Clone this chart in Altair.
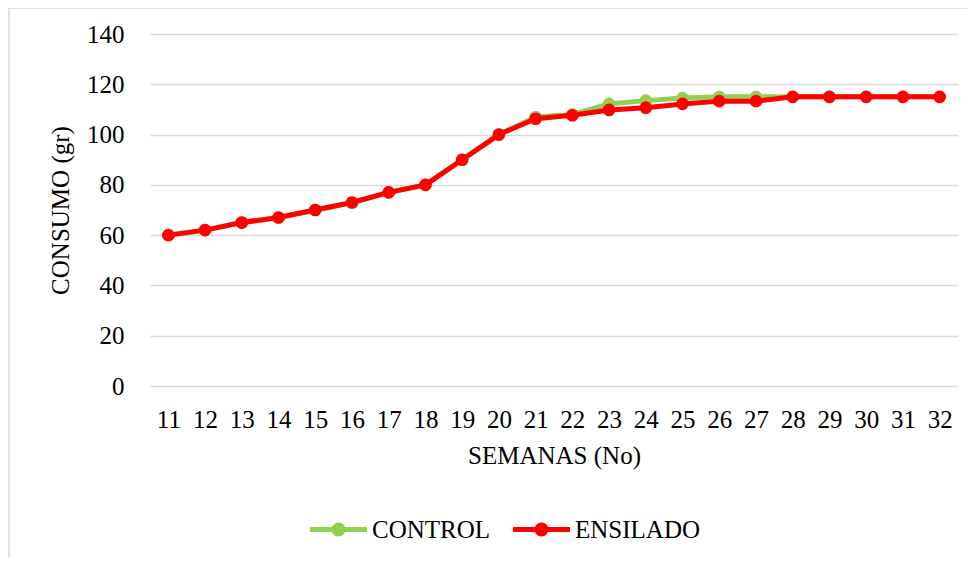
import altair as alt
import pandas as pd

weeks = list(range(11, 33))
control = [60, 62, 65, 67, 70, 73, 77, 80, 90, 100, 107, 108, 112.2, 113.5,
           114.5, 115, 115, 115, 115, 115, 115, 115]
ensilado = [60, 62, 65, 67, 70, 73, 77, 80, 90, 100, 106.3, 107.7, 109.8, 110.7,
            112.2, 113.3, 113.3, 115, 115, 115, 115, 115]
series_names = ["CONTROL", "ENSILADO"]
series_colors = ["#92D050", "#FF0000"]
y_ticks = [0, 20, 40, 60, 80, 100, 120, 140]

FONT = "Liberation Serif"
FS = 25

df = pd.DataFrame(
    {"semana": weeks * 2,
     "consumo": control + ensilado,
     "serie": [series_names[0]] * len(weeks) + [series_names[1]] * len(weeks)}
)

color = alt.Color(
    "serie:N",
    scale=alt.Scale(domain=series_names, range=series_colors),
    legend=alt.Legend(
        title=None,
        orient="none",
        direction="horizontal",
        legendX=176,
        legendY=483,
        symbolType="M-4.75,0L4.75,0M-0.75,0A0.75,0.75,0,1,1,0.75,0A0.75,0.75,0,1,1,-0.75,0Z",
        symbolSize=144,
        symbolStrokeWidth=5,
        symbolOpacity=1,
        labelOffset=21,
        columnPadding=12,
        labelFont=FONT,
        labelFontSize=FS,
        labelColor="#000000",
    ),
)

x = alt.X(
    "semana:O",
    sort=weeks,
    scale=alt.Scale(padding=0.5),
    axis=alt.Axis(
        title="SEMANAS (No)",
        labelAngle=0,
        labelOverlap=False,
        ticks=False,
        domain=False,
        grid=False,
        labelPadding=21,
        labelFont=FONT,
        labelFontSize=FS,
        labelColor="#000000",
        labelFontWeight="normal",
        titleFont=FONT,
        titleFontSize=FS,
        titleFontWeight="normal",
        titleColor="#000000",
        titlePadding=11,
    ),
)
y = alt.Y(
    "consumo:Q",
    scale=alt.Scale(domain=[0, 140]),
    axis=alt.Axis(
        title="CONSUMO (gr)",
        values=y_ticks,
        ticks=False,
        domain=False,
        grid=True,
        gridColor="#d9d9d9",
        gridWidth=1.3,
        labelPadding=26,
        labelFont=FONT,
        labelFontSize=FS,
        labelColor="#000000",
        titleFont=FONT,
        titleFontSize=FS,
        titleFontWeight="normal",
        titleColor="#000000",
        titleX=-90,
        titleY=176,
        titleAngle=-90,
        titleAlign="center",
        titleBaseline="middle",
    ),
)

layers = []
for name in series_names:
    layers.append(
        alt.Chart(df)
        .transform_filter(alt.datum.serie == name)
        .mark_line(
            strokeWidth=5,
            point=alt.OverlayMarkDef(filled=True, size=160, opacity=1),
        )
        .encode(x=x, y=y, color=color)
    )

border_df = pd.DataFrame({"k": [0]})
border = alt.Chart(border_df).mark_rect(
    fillOpacity=0, stroke="#d9d9d9", strokeWidth=1.5
).encode(
    x=alt.value(-141), x2=alt.value(840), y=alt.value(-26), y2=alt.value(560)
)

chart = (
    alt.layer(border, *layers)
    .properties(
        width=808,
        height=352,
        padding={"left": 142, "top": 26, "right": 9, "bottom": 171},
        autosize=alt.AutoSizeParams(type="none"),
        background="#ffffff",
    )
    .configure_view(stroke=None)
)

chart.save("out.html", embed_options={"renderer": "svg", "actions": False})
